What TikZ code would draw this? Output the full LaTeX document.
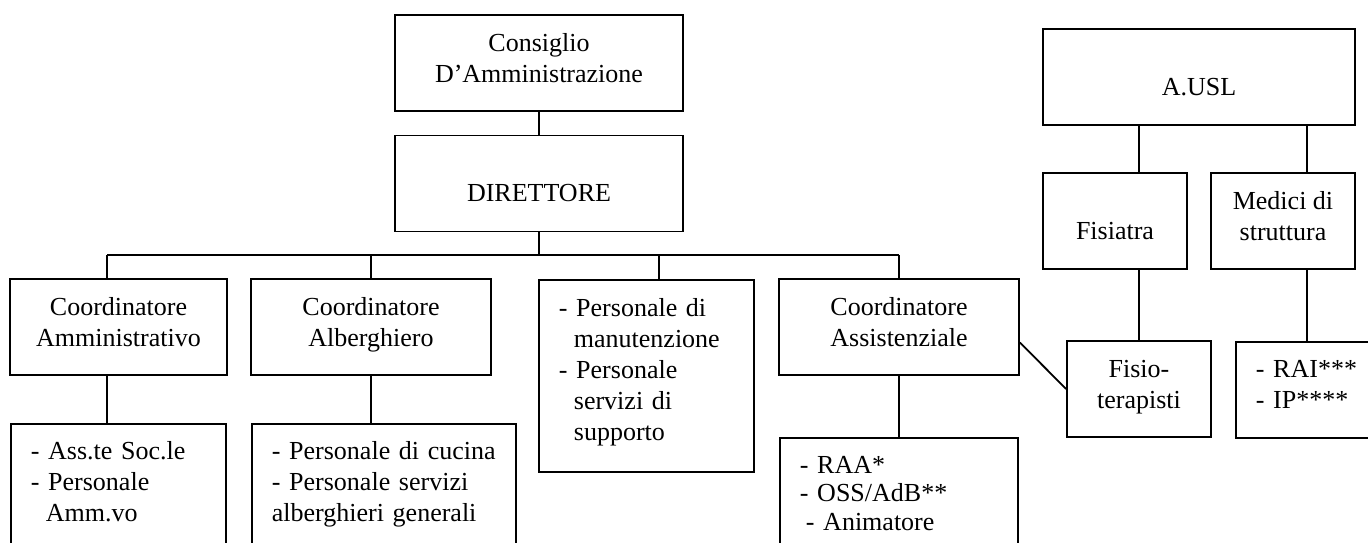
\documentclass[tikz,border=0pt]{standalone}
\usepackage{fontspec}
\setmainfont{Liberation Serif}
\newcommand{\ind}{\hspace*{7.5pt}}

\begin{document}
\begin{tikzpicture}[x=0.5pt, y=-0.5pt, line width=0.9pt,
    box/.style = {draw, inner sep=0pt, align=center, font=\fontsize{13}{15.5}\selectfont},
    unit/.style = {box, minimum height=48pt, execute at end node=\strut},
    low text/.style = {text height=20pt, text depth=2pt},
    list/.style = {box, align=left, anchor=north west, inner xsep=10pt, inner ysep=9pt},
    open list/.style = {list, text depth=50pt}]
    \useasboundingbox (0,0) rectangle (1368,542);
    \clip (0,0) rectangle (1368,542);

    % direzione
    \node[unit, minimum width=144pt] (cda) at (539,63) {Consiglio \\ D'Amministrazione};
    \node[unit, low text, minimum width=144pt] (dir) at (539,183.5) {DIRETTORE};

    \node[unit, minimum width=108.5pt] (amm) at (118.5,327) {Coordinatore \\ Amministrativo};
    \node[unit, minimum width=120pt] (alb) at (371,327) {Coordinatore \\ Alberghiero};
    \node[list, text width=87.5pt, text depth=68pt, minimum height=96pt] (manut) at (538,279) {- Personale di \\ \ind manutenzione \\ - Personale \\ \ind servizi di \\ \ind supporto};
    \node[unit, minimum width=120pt] (ass) at (899,327) {Coordinatore \\ Assistenziale};

    \node[open list, text width=87.5pt] (amm list) at (10,423) {- Ass.te Soc.le \\ - Personale \\ \ind Amm.vo};
    \node[open list, text width=112pt] (alb list) at (251,423) {- Personale di cucina \\ - Personale servizi \\ alberghieri generali};
    \node[open list, text width=99pt, font=\fontsize{13}{14.3}\selectfont] (ass list) at (779,437) {- RAA* \\ - OSS/AdB** \\ \hspace*{3pt}- Animatore};

    % azienda sanitaria
    \node[unit, low text, minimum width=156pt] (ausl) at (1199,77) {A.USL};
    \node[unit, low text, minimum width=72pt] (fisiatra) at (1115,221) {Fisiatra};
    \node[unit, minimum width=72pt] (medici) at (1283,221) {Medici di \\ struttura};
    \node[unit, minimum width=72pt] (fisio) at (1139,389) {Fisio- \\ terapisti};
    \node[list, text width=51pt, text depth=20.5pt, minimum height=48pt] (rai) at (1235,341) {- RAI*** \\ - IP****};

    \coordinate (bus w) at (107,255);
    \coordinate (bus e) at (899,255);

    \draw (cda) -- (dir);
    \draw (dir.south) -- (dir.south |- bus w);
    \draw (bus w) -- (bus e);
    \draw (bus w) -- (bus w |- amm.north);
    \draw (alb.north) -- (alb.north |- bus w);
    \draw ([xshift=6.25pt]manut.north) -- ([xshift=6.25pt]manut.north |- bus w);
    \draw (bus e) -- (ass.north);

    \draw (amm.south -| bus w) -- (amm list.north -| bus w);
    \draw (alb.south) -- (alb.south |- alb list.north);
    \draw (ass.south) -- (ass.south |- ass list.north);

    \draw (ausl.south -| fisio) -- (fisiatra.north -| fisio);
    \draw (fisiatra.south -| fisio) -- (fisio.north);
    \draw (ausl.south -| rai) -- (medici.north -| rai);
    \draw (medici.south -| rai) -- (rai.north);
    \draw ([yshift=-7.75pt]ass.east) -- (fisio.west);
\end{tikzpicture}
\end{document}
